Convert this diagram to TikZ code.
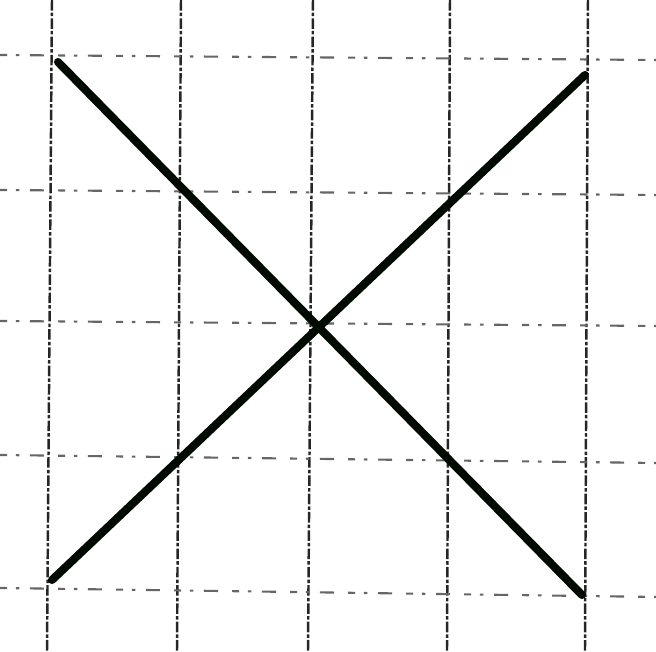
\documentclass[tikz,border=0pt]{standalone}
\usetikzlibrary{positioning, arrows.meta, calc}
\begin{document}
\begin{tikzpicture}[
  x=0.01cm, y=-0.01cm,
  vline/.style={line width=0.7pt, black!85, dash pattern=on 3pt off 0.6pt on 1pt off 0.6pt},
  hline/.style={line width=0.6pt, black!60, dash pattern=on 2pt off 2.5pt on 1pt off 3pt on 4pt off 4pt},
  cross/.style={line width=2.3pt, black!90!green!40!black, line cap=round}
]
\useasboundingbox (0,0) rectangle (656,652);
% grid
\foreach \x/\xb in {52/47, 181/177, 313/308, 450/447, 588/585}
  \draw[vline] (\x,0) -- (\xb,652);
\foreach \y/\yb in {55/60, 190/195, 321/326, 455/463, 588/597}
  \draw[hline] (0,\y) -- (656,\yb);
% end points
\coordinate (tl) at (58,62);
\coordinate (br) at (582,595);
\coordinate (bl) at (52,580);
\coordinate (tr) at (585,75);
% the cross
\draw[cross] (tl) -- (br);
\draw[cross] (bl) -- (tr);
\end{tikzpicture}
\end{document}
